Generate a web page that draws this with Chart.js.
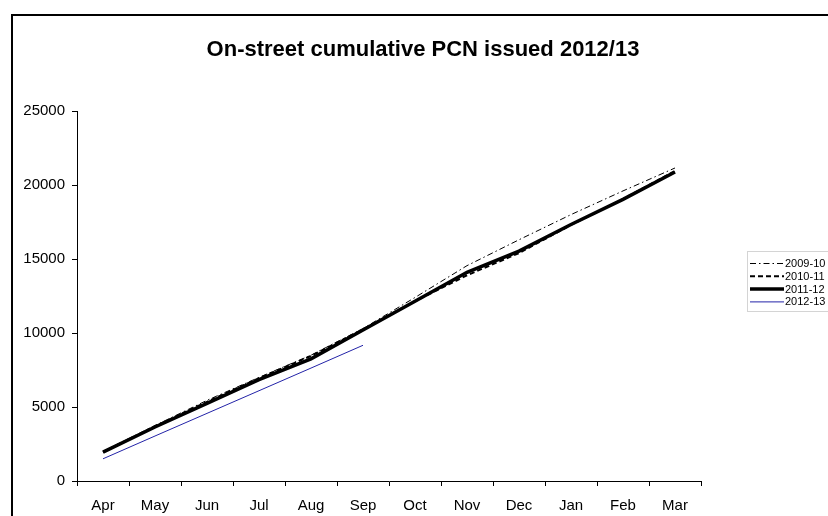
<!DOCTYPE html>
<html>
<head>
<meta charset="utf-8">
<script src="https://cdn.jsdelivr.net/npm/chart.js@4.4.0/dist/chart.umd.min.js"></script>
<style>
  html, body { margin: 0; padding: 0; background: #fff; }
  #wrap { width: 828px; height: 516px; }
</style>
</head>
<body>
<div id="wrap"><canvas id="pcnChart" width="828" height="516"></canvas></div>
<script>
// Chart data
const months = ["Apr", "May", "Jun", "Jul", "Aug", "Sep", "Oct", "Nov", "Dec", "Jan", "Feb", "Mar"];
const yTicks = [0, 5000, 10000, 15000, 20000, 25000];

const pcn0910 = [2000, 3750, 5450, 7000, 8500, 10300, 12400, 14550, 16300, 18000, 19600, 21150];
const pcn1011 = [1950, 3700, 5350, 6950, 8450, 10250, 12150, 13900, 15400, 17300, 19050, 20950];
const pcn1112 = [1950, 3650, 5250, 6850, 8250, 10200, 12150, 14100, 15530, 17330, 19030, 20880];
const pcn1213 = [1500, 3040, 4570, 6100, 7630, 9170];

const titleText = 'On-street cumulative PCN issued 2012/13';
const font = '"Liberation Sans", Arial, sans-serif';

// outer frame (only left + top edges show) and the title
const frame = {
  id: 'frame',
  beforeDraw(chart) {
    const ctx = chart.ctx;
    ctx.save();
    ctx.fillStyle = '#fff';
    ctx.fillRect(0, 0, chart.width, chart.height);
    ctx.strokeStyle = '#000';
    ctx.lineWidth = 2;
    ctx.beginPath();
    ctx.moveTo(12, chart.height + 5);
    ctx.lineTo(12, 15);
    ctx.lineTo(chart.width + 5, 15);
    ctx.stroke();

    ctx.fillStyle = '#000';
    ctx.font = 'bold 22px ' + font;
    ctx.textAlign = 'center';
    ctx.textBaseline = 'middle';
    ctx.fillText(titleText, 423, 50);
    ctx.restore();
  }
};

// legend box on the right, styled from the datasets
const legendBox = {
  id: 'legendBox',
  afterDraw(chart) {
    const ctx = chart.ctx;
    ctx.save();
    ctx.strokeStyle = '#a8a8a8';
    ctx.lineWidth = 1;
    ctx.setLineDash([1, 1]);
    ctx.strokeRect(747.5, 251.5, 100, 60);
    chart.data.datasets.forEach((ds, i) => {
      const y = 263.5 + i * 12.8;
      ctx.setLineDash(ds.borderDash || []);
      ctx.strokeStyle = ds.borderColor;
      ctx.lineWidth = ds.borderWidth;
      ctx.beginPath();
      ctx.moveTo(750, y);
      ctx.lineTo(784, y);
      ctx.stroke();
      ctx.setLineDash([]);
      ctx.fillStyle = '#000';
      ctx.font = '11px ' + font;
      ctx.textBaseline = 'middle';
      ctx.fillText(ds.label, 785, y + 0.5);
    });
    ctx.restore();
  }
};

const ctx = document.getElementById('pcnChart').getContext('2d');

new Chart(ctx, {
  type: 'line',
  data: {
    labels: months,
    datasets: [
      {
        label: '2009-10',
        data: pcn0910,
        borderColor: '#000',
        borderWidth: 1,
        borderDash: [6, 3, 1.5, 3],
        order: 3
      },
      {
        label: '2010-11',
        data: pcn1011,
        borderColor: '#000',
        borderWidth: 2,
        borderDash: [5, 3],
        order: 2
      },
      {
        label: '2011-12',
        data: pcn1112,
        borderColor: '#000',
        borderWidth: 3.5,
        order: 1
      },
      {
        label: '2012-13',
        data: pcn1213,
        borderColor: '#2323a8',
        borderWidth: 1,
        order: 0
      }
    ]
  },
  options: {
    responsive: false,
    animation: false,
    devicePixelRatio: 1,
    layout: { padding: { left: 0, right: 127, top: 111, bottom: 0 } },
    elements: {
      point: { radius: 0 },
      line: { tension: 0, fill: false }
    },
    scales: {
      x: {
        offset: true,
        grid: {
          offset: true,
          drawOnChartArea: false,
          tickLength: 5,
          color: '#000'
        },
        border: { color: '#000', width: 1 },
        ticks: {
          color: '#000',
          font: { family: font, size: 15 },
          padding: 11,
          maxRotation: 0,
          autoSkip: false
        },
        afterFit: (scale) => { scale.height = 35; }
      },
      y: {
        min: 0,
        max: 25000,
        afterBuildTicks: (scale) => {
          scale.ticks = yTicks.map((v) => ({ value: v }));
        },
        grid: {
          drawOnChartArea: false,
          tickLength: 5,
          color: '#000'
        },
        border: { color: '#000', width: 1 },
        ticks: {
          color: '#000',
          font: { family: font, size: 15 },
          padding: 7,
          callback: (value) => String(value)
        },
        afterFit: (scale) => { scale.width = 77; }
      }
    },
    plugins: {
      legend: { display: false },
      tooltip: { enabled: false },
      title: { display: false }
    }
  },
  plugins: [frame, legendBox]
});
</script>
</body>
</html>
